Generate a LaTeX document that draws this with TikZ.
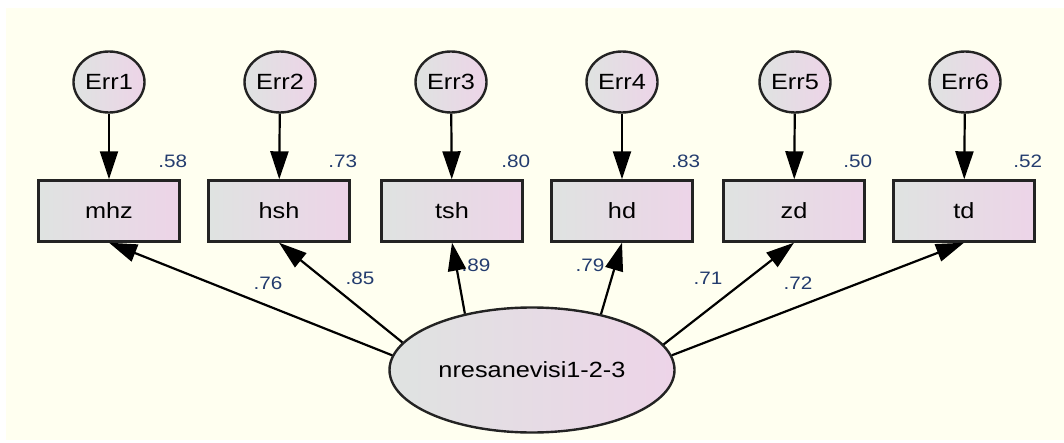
\documentclass[tikz,border=0pt]{standalone}
\usepackage{fontspec}
\setmainfont{Liberation Sans}[FakeStretch=1.15]
\usetikzlibrary{shapes.geometric,arrows.meta}
\definecolor{paper}{RGB}{255,255,240}
\definecolor{shadeL}{RGB}{223,227,225}
\definecolor{shadeR}{RGB}{237,212,232}
\definecolor{edgegray}{RGB}{35,35,35}
\definecolor{numblue}{RGB}{35,60,110}
\begin{document}
\begin{tikzpicture}[x=1pt,y=-1pt]
	\tikzstyle{obs} = [rectangle,draw=edgegray,line width=2.4pt,left color=shadeL,right color=shadeR,minimum width=141pt,minimum height=61pt,inner sep=0pt,font=\fontsize{22}{24}\selectfont]
	\tikzstyle{err} = [ellipse,draw=edgegray,line width=2.4pt,left color=shadeL,right color=shadeR,minimum width=71pt,minimum height=61pt,inner sep=0pt,font=\fontsize{22}{24}\selectfont]
	\tikzstyle{latent} = [ellipse,draw=edgegray,line width=2.4pt,left color=shadeL,right color=shadeR,minimum width=285pt,minimum height=125pt,inner sep=0pt,font=\fontsize{22}{24}\selectfont]
	\tikzstyle{num} = [inner sep=0pt,text=numblue,font=\fontsize{18}{20}\selectfont]
	\tikzstyle{load} = [-{Triangle[length=28pt,width=18pt]},line width=2.2pt,black]
	\useasboundingbox (0,0) rectangle (1064,443);
	\fill[paper] (6,8) rectangle (1064,440);
	\node[err](e1)at(109,82){Err1};
	\node[err](e2)at(280,82){Err2};
	\node[err](e3)at(451,82){Err3};
	\node[err](e4)at(622,82){Err4};
	\node[err](e5)at(795,82){Err5};
	\node[err](e6)at(965,82){Err6};
	\node[obs](mhz)at(109,211){mhz};
	\node[obs](hsh)at(279,211){hsh};
	\node[obs](tsh)at(452,211){tsh};
	\node[obs](hd)at(622,211){hd};
	\node[obs](zd)at(794,211){zd};
	\node[obs](td)at(964,211){td};
	\node[latent](f)at(532,370){nresanevisi1-2-3};
	\foreach \b/\r in {mhz/.58,hsh/.73,tsh/.80,hd/.83,zd/.50,td/.52}
		\node[num](r-\b)at([shift={(-8pt,18pt)}]\b.north east){\r};
	\path[load] (e1) edge (mhz)
	(e2) edge (hsh)
	(e3) edge (tsh)
	(e4) edge (hd)
	(e5) edge (zd)
	(e6) edge (td);
	\path[load] (f.174) edge (mhz.south)
	(f.168) edge (hsh.south)
	(f.140) edge (tsh.south)
	(f.39) edge (hd.south)
	(f.11) edge (zd.south)
	(f.6) edge (td.south);
	\node[num](l1)at(268,283){.76};
	\node[num](l2)at(360,278){.85};
	\node[num](l3)at(476,265){.89};
	\node[num](l4)at(590,265){.79};
	\node[num](l5)at(708,278){.71};
	\node[num](l6)at(798,283){.72};
\end{tikzpicture}
\end{document}
